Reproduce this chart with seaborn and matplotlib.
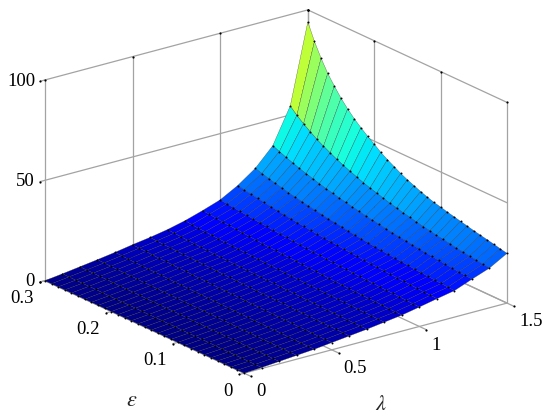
import numpy as np
import matplotlib
matplotlib.use('Agg')
import matplotlib.pyplot as plt
import seaborn as sns

sns.set_style('white')
plt.rcParams['font.family'] = ['Liberation Serif', 'DejaVu Serif']

# Configuration
lam = [0.0, 0.1, 0.2, 0.3, 0.4, 0.5, 0.6, 0.7, 0.8, 0.9, 1.0, 1.1, 1.2, 1.3, 1.4, 1.5]
eps = [0.00, 0.01, 0.02, 0.03, 0.04, 0.05, 0.06, 0.07, 0.08, 0.09, 0.10,
       0.11, 0.12, 0.13, 0.14, 0.15, 0.16, 0.17, 0.18, 0.19, 0.20,
       0.21, 0.22, 0.23, 0.24, 0.25, 0.26, 0.27, 0.28, 0.29, 0.30]

# one row per lambda, eps increases along the row
z_00 = [0.0] * 31
z_01 = [.5,.5,.5,.6,.6,.6,.6,.6,.7,.7,.7,.7,.7,.8,.8,.8,.8,.8,.8,.9,.9,.9,.9,.9,1.0,1.0,1.0,1.0,1.0,1.1,1.1]
z_02 = [1.2,1.2,1.3,1.3,1.3,1.3,1.4,1.4,1.4,1.5,1.5,1.5,1.6,1.6,1.6,1.7,1.7,1.7,1.8,1.8,1.8,1.9,1.9,1.9,2.0,2.0,2.1,2.1,2.2,2.2,2.3]
z_03 = [1.9,1.9,2.0,2.0,2.1,2.1,2.2,2.2,2.2,2.3,2.3,2.4,2.4,2.5,2.5,2.6,2.6,2.6,2.7,2.7,2.8,2.8,2.9,2.9,3.0,3.1,3.1,3.2,3.3,3.4,3.5]
z_04 = [2.6,2.7,2.7,2.8,2.8,2.9,3.0,3.0,3.1,3.1,3.2,3.2,3.3,3.4,3.4,3.5,3.6,3.6,3.7,3.8,3.8,3.9,4.0,4.1,4.2,4.2,4.3,4.4,4.5,4.7,4.8]
z_05 = [3.6,3.7,3.7,3.8,3.9,3.9,4.0,4.1,4.1,4.2,4.3,4.4,4.4,4.5,4.6,4.7,4.7,4.8,4.9,5.0,5.1,5.2,5.3,5.4,5.5,5.6,5.7,5.8,6.0,6.1,6.3]
z_06 = [4.6,4.7,4.8,4.9,4.9,5.0,5.1,5.2,5.2,5.3,5.4,5.5,5.5,5.6,5.7,5.8,5.9,6.0,6.1,6.2,6.3,6.4,6.5,6.6,6.7,6.8,7.0,7.1,7.2,7.4,7.6]
z_07 = [5.6,5.7,5.8,5.8,5.9,6.0,6.1,6.2,6.3,6.4,6.5,6.6,6.7,6.8,6.9,7.0,7.1,7.2,7.3,7.4,7.5,7.6,7.7,7.8,8.0,8.1,8.3,8.5,8.7,8.9,9.2]
z_08 = [6.8,6.9,7.0,7.1,7.2,7.3,7.4,7.5,7.6,7.7,7.8,7.9,8.0,8.2,8.3,8.4,8.5,8.7,8.8,9.0,9.1,9.3,9.5,9.6,9.8,10.0,10.2,10.4,10.6,10.9,11.3]
z_09 = [8.0,8.1,8.2,8.4,8.5,8.6,8.7,8.9,9.0,9.2,9.3,9.5,9.7,9.8,10.0,10.2,10.4,10.6,10.8,11.0,11.2,11.4,11.7,11.9,12.2,12.4,12.7,13.0,13.3,13.7,14.0]
z_10 = [9.7,9.8,10.0,10.1,10.3,10.4,10.6,10.8,11.0,11.1,11.3,11.5,11.7,11.9,12.1,12.4,12.6,12.8,13.1,13.3,13.6,13.9,14.2,14.5,14.8,15.1,15.5,15.8,16.2,16.6,17.0]
z_11 = [11.5,11.7,11.9,12.1,12.3,12.5,12.7,12.9,13.2,13.4,13.6,13.9,14.2,14.5,14.7,15.1,15.4,15.7,16.0,16.4,16.8,17.2,17.6,18.0,18.5,19.0,19.5,20.0,20.6,21.1,21.8]
z_12 = [13.2,13.4,13.7,13.9,14.2,14.5,14.7,15.1,15.4,15.7,16.0,16.4,16.7,17.1,17.5,17.9,18.4,18.8,19.3,19.8,20.4,21.0,21.6,22.2,22.9,23.6,24.4,25.2,26.0,27.0,28.0]
z_13 = [16.6,16.9,17.2,17.6,17.9,18.3,18.7,19.1,19.5,19.9,20.4,20.8,21.3,21.8,22.4,22.9,23.5,24.2,24.9,25.6,26.3,27.1,27.9,28.8,29.8,30.8,31.8,33.0,34.2,35.6,37.0]
z_14 = [19.8,20.2,20.7,21.1,21.6,22.1,22.7,23.3,23.8,24.5,25.1,25.8,26.6,27.3,28.2,29.0,30.0,31.0,32.0,33.1,34.4,35.7,37.1,38.6,40.3,42.1,44.1,46.3,48.7,51.4,54.5]
z_15 = [24.8,25.5,26.3,27.0,27.7,28.4,29.2,30.0,30.8,31.6,32.5,33.3,34.4,35.6,37.0,38.4,40.0,41.9,43.8,45.9,48.5,50.9,53.6,56.5,59.9,63.7,68.2,73.0,79.0,85.8,94.0]

lam_ticks = [0, 0.5, 1, 1.5]
lam_labels = ['0', '0.5', '1', '1.5']
eps_ticks = [0, 0.1, 0.2, 0.3]
eps_labels = ['0', '0.1', '0.2', '0.3']
z_ticks = [0, 50, 100]
z_labels = ['0', '50', '100']

# height to colormap position, matched by eye against the colours of the bands
color_z = [0, 10, 21.8, 28, 37, 54.5, 94]
color_pos = [0.0, 0.08, 0.195, 0.24, 0.29, 0.37, 0.58]

GRID = '#a3a3a3'
FS = 13.5

Z = np.array([z_00, z_01, z_02, z_03, z_04, z_05, z_06, z_07,
              z_08, z_09, z_10, z_11, z_12, z_13, z_14, z_15])
L, E = np.meshgrid(lam, eps, indexing='ij')

fig = plt.figure(figsize=(5.5, 4.19), dpi=100)
# axes is a 700 px square hanging over the figure, a 3D axes clips to its own box
ax = fig.add_axes([-83.5 / 550, -132 / 419, 700 / 550, 700 / 419], projection='3d',
                  proj_type='ortho', computed_zorder=False)
ax.view_init(elev=20.6, azim=-127.15)
ax.set_box_aspect((1, 1, 0.65), zoom=0.712)
ax.set_xlim(0, 1.5)
ax.set_ylim(0, 0.3)
ax.set_zlim(0, 100)
ax.set_xticks([])
ax.set_yticks([])
ax.set_zticks([])
ax.set_axis_off()


def gridline(xs, ys, zs):
    ax.plot(xs, ys, zs, color=GRID, lw=0.9, zorder=1)


lmax, emax, zmax = lam[-1], eps[-1], z_ticks[-1]

# back walls and floor
for l in lam_ticks:
    gridline([l, l], [emax, emax], [0, zmax])
    gridline([l, l], [0, emax], [0, 0])
for e in eps_ticks:
    gridline([lmax, lmax], [e, e], [0, zmax])
for z in z_ticks:
    gridline([0, lmax], [emax, emax], [z, z])
    gridline([lmax, lmax], [0, emax], [z, z])
gridline([0, lmax], [0, 0], [0, 0])
gridline([0, 0], [0, emax], [0, 0])

# ticks, with the little dots at the ends
tick_x, tick_y, tick_z = [], [], []
for l in lam_ticks:
    gridline([l, l], [0, -0.0105], [0, 0])
    tick_x += [l, l]
    tick_y += [-0.0105, emax]
    tick_z += [0, zmax]
for e in eps_ticks:
    gridline([0, -0.028], [e, e], [0, 0])
    tick_x += [-0.028, lmax]
    tick_y += [e, e]
    tick_z += [0, zmax]
for z in z_ticks:
    gridline([0, -0.028], [emax, emax], [z, z])
    tick_x += [-0.028, lmax]
    tick_y += [emax, emax]
    tick_z += [z, z]
ax.scatter(tick_x, tick_y, tick_z, s=2.5, c='k', depthshade=False, linewidths=0, zorder=1.5)

# flat shaded surface, each face takes the colour of its high-lambda, high-eps corner
cmap = matplotlib.colormaps['jet']
LL, EE, ZZ = L[::-1, ::-1], E[::-1, ::-1], Z[::-1, ::-1]
surf = ax.plot_surface(LL, EE, ZZ, rstride=1, cstride=1, facecolors=cmap(np.interp(ZZ, color_z, color_pos)),
                       shade=False, antialiased=True, linewidth=0.2, zorder=2)
surf.set_edgecolor('#303030')
ax.scatter(L.ravel(), E.ravel(), Z.ravel(), s=2, c='k', depthshade=False, linewidths=0, zorder=3)

for l, s in zip(lam_ticks, lam_labels):
    ax.text(l, -0.018, -6.5, s, ha='left', va='center', fontsize=FS, color='k')
for e, s in zip(eps_ticks, eps_labels):
    ax.text(-0.065, e, -7.5, s, ha='right', va='center', fontsize=FS, color='k')
for z, s in zip(z_ticks[1:], z_labels[1:]):
    ax.text(-0.056, emax, z + 0.7, s, ha='right', va='center', fontsize=FS, color='k')
ax.text(-0.056, emax, 1, z_labels[0], ha='right', va='center', fontsize=FS, color='k')

fig.text(131.7 / 550, 1 - 401 / 419, '$\\varepsilon$', fontsize=16, ha='center', va='center',
         math_fontfamily='stix')
fig.text(381 / 550, 1 - 405 / 419, '$\\lambda$', fontsize=16, ha='center', va='center',
         math_fontfamily='stix')

plt.savefig('out.png', dpi=100)
